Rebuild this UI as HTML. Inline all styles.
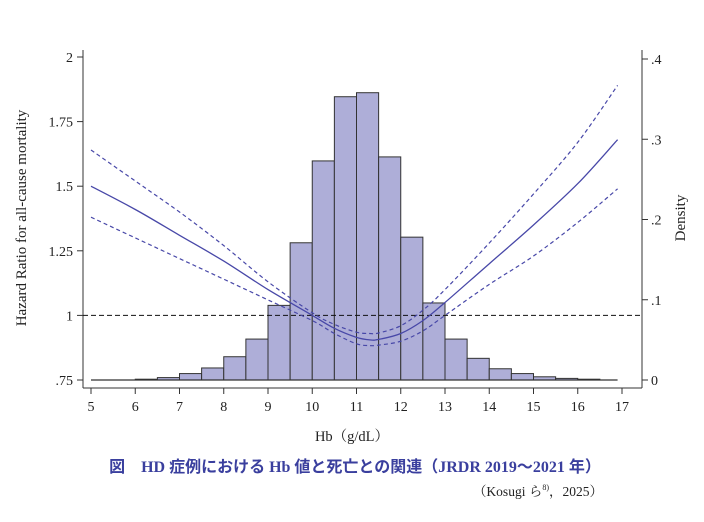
<!DOCTYPE html>
<html><head><meta charset="utf-8"><style>
body{margin:0;background:#fff;width:704px;height:517px;overflow:hidden}
svg text{font-family:"Liberation Serif","Noto Serif CJK SC",serif;fill:#222}
</style></head><body>
<svg id="c" width="704" height="517">
<g id="bars"></g>
<g id="axes"></g>
<g id="curves"></g>
<text x="352" y="441" text-anchor="middle" font-size="14.5">Hb（g/dL）</text>
<text transform="translate(26,218) rotate(-90)" text-anchor="middle" font-size="15">Hazard Ratio for all-cause mortality</text>
<text transform="translate(685,218) rotate(-90)" text-anchor="middle" font-size="15">Density</text>
<text x="355" y="472" text-anchor="middle" font-size="16" font-weight="bold" style="fill:#3a3f9e;font-family:'Liberation Serif','Noto Sans CJK JP',sans-serif">図　HD 症例における Hb 値と死亡との関連（JRDR 2019～2021 年）</text>
<text x="603" y="496" text-anchor="end" font-size="13.5">（Kosugi ら<tspan font-size="8" dy="-6">8)</tspan><tspan dy="6">，2025）</tspan></text>
</svg>
<script>
const binStarts=[5,5.5,6,6.5,7,7.5,8,8.5,9,9.5,10,10.5,11,11.5,12,12.5,13,13.5,14,14.5,15,15.5,16,16.5];
const density=[0,0,0.001,0.003,0.008,0.015,0.029,0.051,0.093,0.171,0.273,0.353,0.358,0.278,0.178,0.096,0.051,0.027,0.014,0.008,0.004,0.002,0.001,0];
const hbPts=[5,6,7,8,9,10,10.5,11,11.3,11.5,12,12.5,13,14,15,16,16.9];
const hr=[1.50,1.41,1.31,1.21,1.10,1.00,0.95,0.915,0.905,0.907,0.93,0.98,1.05,1.20,1.35,1.51,1.68];
const hrUpper=[1.64,1.52,1.40,1.27,1.13,1.01,0.965,0.935,0.93,0.932,0.96,1.02,1.10,1.28,1.47,1.67,1.89];
const hrLower=[1.38,1.30,1.22,1.14,1.06,0.98,0.93,0.89,0.883,0.885,0.90,0.94,1.00,1.12,1.23,1.36,1.49];
const xTicks=[5,6,7,8,9,10,11,12,13,14,15,16,17];
const yTicks=[0.75,1,1.25,1.5,1.75,2];
const yLabels=[".75","1","1.25","1.5","1.75","2"];
const dTicks=[0,0.1,0.2,0.3,0.4];
const dLabels=["0",".1",".2",".3",".4"];
const NS="http://www.w3.org/2000/svg";
const X=v=>91+(v-5)*(531/12);
const Y=v=>380-(v-0.75)*258.4;
const D=v=>380-v*802.5;
function mk(p,t,a){const e=document.createElementNS(NS,t);for(const k in a)e.setAttribute(k,a[k]);p.appendChild(e);return e;}
const bars=document.getElementById('bars');
binStarts.forEach((s,i)=>{const y=D(density[i]);
 const r=mk(bars,'rect',{x:X(s),y:y,width:X(s+0.5)-X(s),height:380-y,fill:'#aeaed8',stroke:'#333','stroke-width':1});
 
 });
const base=mk(bars,'line',{x1:X(5),y1:D(0),x2:X(16.9),y2:D(0),stroke:'#333','stroke-width':1.2});


const ax=document.getElementById('axes');
mk(ax,'line',{x1:83,y1:50,x2:83,y2:388,stroke:'#333'});
mk(ax,'line',{x1:642,y1:50,x2:642,y2:388,stroke:'#333'});
mk(ax,'line',{x1:83,y1:388,x2:642,y2:388,stroke:'#333'});
const ref=mk(ax,'line',{x1:83,y1:Y(1),x2:642,y2:Y(1),stroke:'#111','stroke-dasharray':'5,3'});


xTicks.forEach(v=>{mk(ax,'line',{x1:X(v),y1:388,x2:X(v),y2:394,stroke:'#333'});
 const t=mk(ax,'text',{x:X(v),y:411,'text-anchor':'middle','font-size':14});t.textContent=v;
 
 });
yTicks.forEach((v,i)=>{mk(ax,'line',{x1:77,y1:Y(v),x2:83,y2:Y(v),stroke:'#333'});
 const t=mk(ax,'text',{x:73,y:Y(v)+5,'text-anchor':'end','font-size':14});t.textContent=yLabels[i];
 
 });
dTicks.forEach((v,i)=>{mk(ax,'line',{x1:642,y1:D(v),x2:648,y2:D(v),stroke:'#333'});
 const t=mk(ax,'text',{x:651,y:D(v)+5,'font-size':14});t.textContent=dLabels[i];
 
 });
const cv=document.getElementById('curves');
function path(arr){
 const p=hbPts.map((h,i)=>[X(h),Y(arr[i])]);
 let d='M'+p[0][0].toFixed(1)+','+p[0][1].toFixed(1);
 for(let i=0;i<p.length-1;i++){
  const p0=p[Math.max(0,i-1)],p1=p[i],p2=p[i+1],p3=p[Math.min(p.length-1,i+2)];
  const c1=[p1[0]+(p2[0]-p0[0])/6,p1[1]+(p2[1]-p0[1])/6];
  const c2=[p2[0]-(p3[0]-p1[0])/6,p2[1]-(p3[1]-p1[1])/6];
  d+='C'+c1.map(v=>v.toFixed(1)).join(',')+' '+c2.map(v=>v.toFixed(1)).join(',')+' '+p2[0].toFixed(1)+','+p2[1].toFixed(1);
 }
 return d;}
const p1=mk(cv,'path',{d:path(hr),fill:'none',stroke:'#4848a8','stroke-width':1.3});


const p2=mk(cv,'path',{d:path(hrUpper),fill:'none',stroke:'#4848a8','stroke-width':1.2,'stroke-dasharray':'4,3'});


const p3=mk(cv,'path',{d:path(hrLower),fill:'none',stroke:'#4848a8','stroke-width':1.2,'stroke-dasharray':'4,3'});


</script>
</body></html>
